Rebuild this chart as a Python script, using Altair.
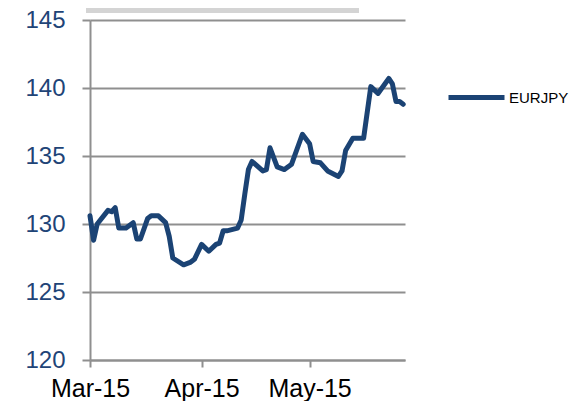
import altair as alt
import pandas as pd

dates = ["2015-03-01", "2015-03-02", "2015-03-03", "2015-03-06", "2015-03-07", "2015-03-08",
         "2015-03-09", "2015-03-11", "2015-03-13", "2015-03-14", "2015-03-15", "2015-03-17",
         "2015-03-18", "2015-03-20", "2015-03-22", "2015-03-23", "2015-03-24", "2015-03-27",
         "2015-03-29", "2015-03-30", "2015-04-01", "2015-04-03", "2015-04-05", "2015-04-06",
         "2015-04-07", "2015-04-08", "2015-04-11", "2015-04-12", "2015-04-13", "2015-04-14",
         "2015-04-15", "2015-04-18", "2015-04-19", "2015-04-20", "2015-04-22", "2015-04-24",
         "2015-04-26", "2015-04-29", "2015-05-01", "2015-05-02", "2015-05-04", "2015-05-06",
         "2015-05-09", "2015-05-10", "2015-05-11", "2015-05-13", "2015-05-16", "2015-05-18",
         "2015-05-20", "2015-05-23", "2015-05-24", "2015-05-25", "2015-05-26", "2015-05-27"]
eurjpy = [130.6, 128.8, 130.0, 131.0, 130.9, 131.2,
          129.7, 129.7, 130.1, 128.9, 128.9, 130.4,
          130.6, 130.6, 130.1, 129.1, 127.5, 127.0,
          127.2, 127.4, 128.5, 128.0, 128.5, 128.6,
          129.5, 129.5, 129.7, 130.3, 132.2, 134.0,
          134.6, 133.9, 134.0, 135.6, 134.2, 134.0,
          134.4, 136.6, 135.9, 134.6, 134.5, 133.9,
          133.5, 133.9, 135.4, 136.3, 136.3, 140.1,
          139.6, 140.7, 140.3, 139.0, 139.0, 138.8]
series_name = "EURJPY"
y_ticks = [120, 125, 130, 135, 140, 145]

df = pd.DataFrame({"date": dates, "value": eurjpy, "series": series_name})

FONT = "Liberation Sans"
LINE_COLOR = "#1b4374"
GRID = "#8f8f8f"

x_enc = alt.X(
    "date:T",
    scale=alt.Scale(type="utc",
                    domain=[alt.DateTime(year=2015, month=3, date=1, utc=True),
                            alt.DateTime(year=2015, month=5, date=27, hours=12, utc=True)]),
    axis=alt.Axis(
        title=None,
        values=[alt.DateTime(year=2015, month=3, date=1, utc=True),
                alt.DateTime(year=2015, month=4, date=1, utc=True),
                alt.DateTime(year=2015, month=5, date=1, utc=True)],
        labelExpr="utcFormat(datum.value, '%b-%y')",
        grid=False, domainColor=GRID, domainWidth=2,
        tickColor=GRID, tickWidth=2, tickSize=7,
        labelFont=FONT, labelFontSize=25, labelColor="#000000",
        labelPadding=9, labelAngle=0, labelFlush=False,
    ),
)

y_enc = alt.Y(
    "value:Q",
    scale=alt.Scale(domain=[120, 145], nice=False, zero=False),
    axis=alt.Axis(
        title=None, values=y_ticks, grid=True, gridColor=GRID, gridWidth=2,
        domainColor=GRID, domainWidth=2, tickColor=GRID, tickWidth=2, tickSize=8,
        labelFont=FONT, labelFontSize=24, labelColor="#1f4477", labelPadding=17,
    ),
)

line = alt.Chart(df).mark_line(strokeWidth=5, strokeJoin="round", strokeCap="round").encode(
    x=x_enc,
    y=y_enc,
    color=alt.Color(
        "series:N",
        scale=alt.Scale(range=[LINE_COLOR]),
        legend=alt.Legend(
            title=None, orient="none", legendX=356, legendY=47,
            symbolType="stroke", symbolSize=3136, symbolStrokeWidth=5,
            symbolStrokeColor=LINE_COLOR,
            labelFont=FONT, labelFontSize=15, labelColor="#000000", labelOffset=2,
        ),
    ),
)

bar = alt.Chart(pd.DataFrame({"a": [0]})).mark_rect(color="#d4d4d4").encode(
    x=alt.value(-4), x2=alt.value(269), y=alt.value(-12), y2=alt.value(-7)
)

chart = alt.layer(bar, line).properties(
    width=315, height=340,
    autosize=alt.AutoSizeParams(type="none"),
    padding={"left": 82, "top": 12, "right": 170, "bottom": 41},
).configure_view(stroke=None)

chart.save("out.html", embed_options={"renderer": "svg", "actions": False})
